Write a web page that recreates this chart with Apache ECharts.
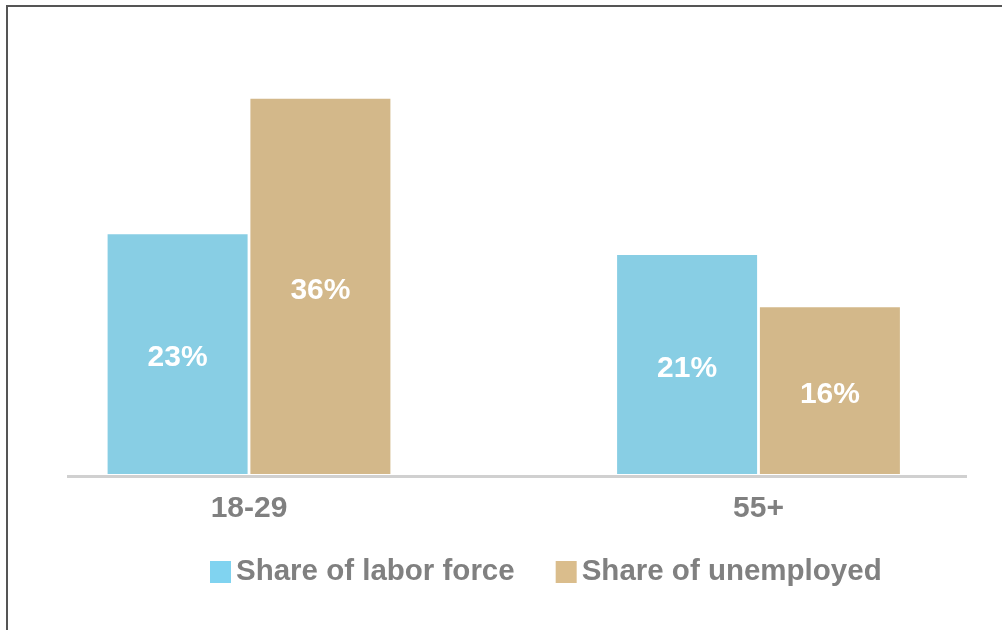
<!DOCTYPE html>
<html>
<head>
<meta charset="utf-8">
<style>
  html, body { margin: 0; padding: 0; background: #ffffff; }
  #chart { width: 1002px; height: 630px; }
</style>
<script src="https://cdn.jsdelivr.net/npm/echarts@6/dist/echarts.min.js"></script>
</head>
<body>
<div id="chart"></div>
<script>
// Age groups on the horizontal axis
const categories = ['18-29', '55+'];
// Series names and values (percent)
const seriesNames = ['Share of labor force', 'Share of unemployed'];
const laborForce = [23, 21];
const unemployed = [36, 16];

const BLUE = '#88CEE4';
const TAN = '#D3B88A';
const FONT = '"Liberation Sans", Arial, sans-serif';

const chart = echarts.init(document.getElementById('chart'), null, { renderer: 'canvas' });

const barLabel = {
  show: true,
  position: 'inside',
  offset: [0, 4],
  formatter: p => p.value + '%',
  color: '#ffffff',
  fontFamily: FONT,
  fontWeight: 'bold',
  fontSize: 30
};

chart.setOption({
  animation: false,
  backgroundColor: '#ffffff',
  // category centres sit on the grid edges (boundaryGap: false)
  grid: { left: 249, top: 57, width: 509.5, height: 417, containLabel: false },
  xAxis: {
    type: 'category',
    data: categories,
    boundaryGap: false,
    axisLine: { show: false },
    axisTick: { show: false },
    splitLine: { show: false },
    axisLabel: {
      color: '#808080',
      fontFamily: FONT,
      fontWeight: 'bold',
      fontSize: 30,
      margin: 20
    }
  },
  yAxis: {
    type: 'value',
    min: 0,
    max: 40,
    show: false,
    splitLine: { show: false }
  },
  legend: {
    left: 210,
    top: 557,
    padding: 0,
    itemWidth: 21,
    itemHeight: 22,
    itemGap: 41,
    icon: 'rect',
    textStyle: {
      color: '#808080',
      fontFamily: FONT,
      fontWeight: 'bold',
      fontSize: 29.5
    },
    data: [
      { name: seriesNames[0], itemStyle: { color: '#80D3F0' } },
      { name: seriesNames[1], itemStyle: { color: '#DABD8C' } }
    ]
  },
  graphic: [
    // frame lines along top and left edge
    {
      type: 'polyline',
      silent: true,
      shape: { points: [[7, 630], [7, 6], [1002, 6]] },
      style: { stroke: '#555555', lineWidth: 2, fill: null }
    },
    // baseline under the bars
    {
      type: 'rect',
      silent: true,
      shape: { x: 67, y: 475, width: 900, height: 3 },
      style: { fill: '#d0d0d0' }
    }
  ],
  series: [
    {
      name: seriesNames[0],
      type: 'bar',
      data: laborForce,
      barWidth: 140,
      barGap: '2%',
      itemStyle: { color: BLUE },
      label: barLabel
    },
    {
      name: seriesNames[1],
      type: 'bar',
      data: unemployed,
      barWidth: 140,
      itemStyle: { color: TAN },
      label: barLabel
    }
  ]
});
</script>
</body>
</html>
